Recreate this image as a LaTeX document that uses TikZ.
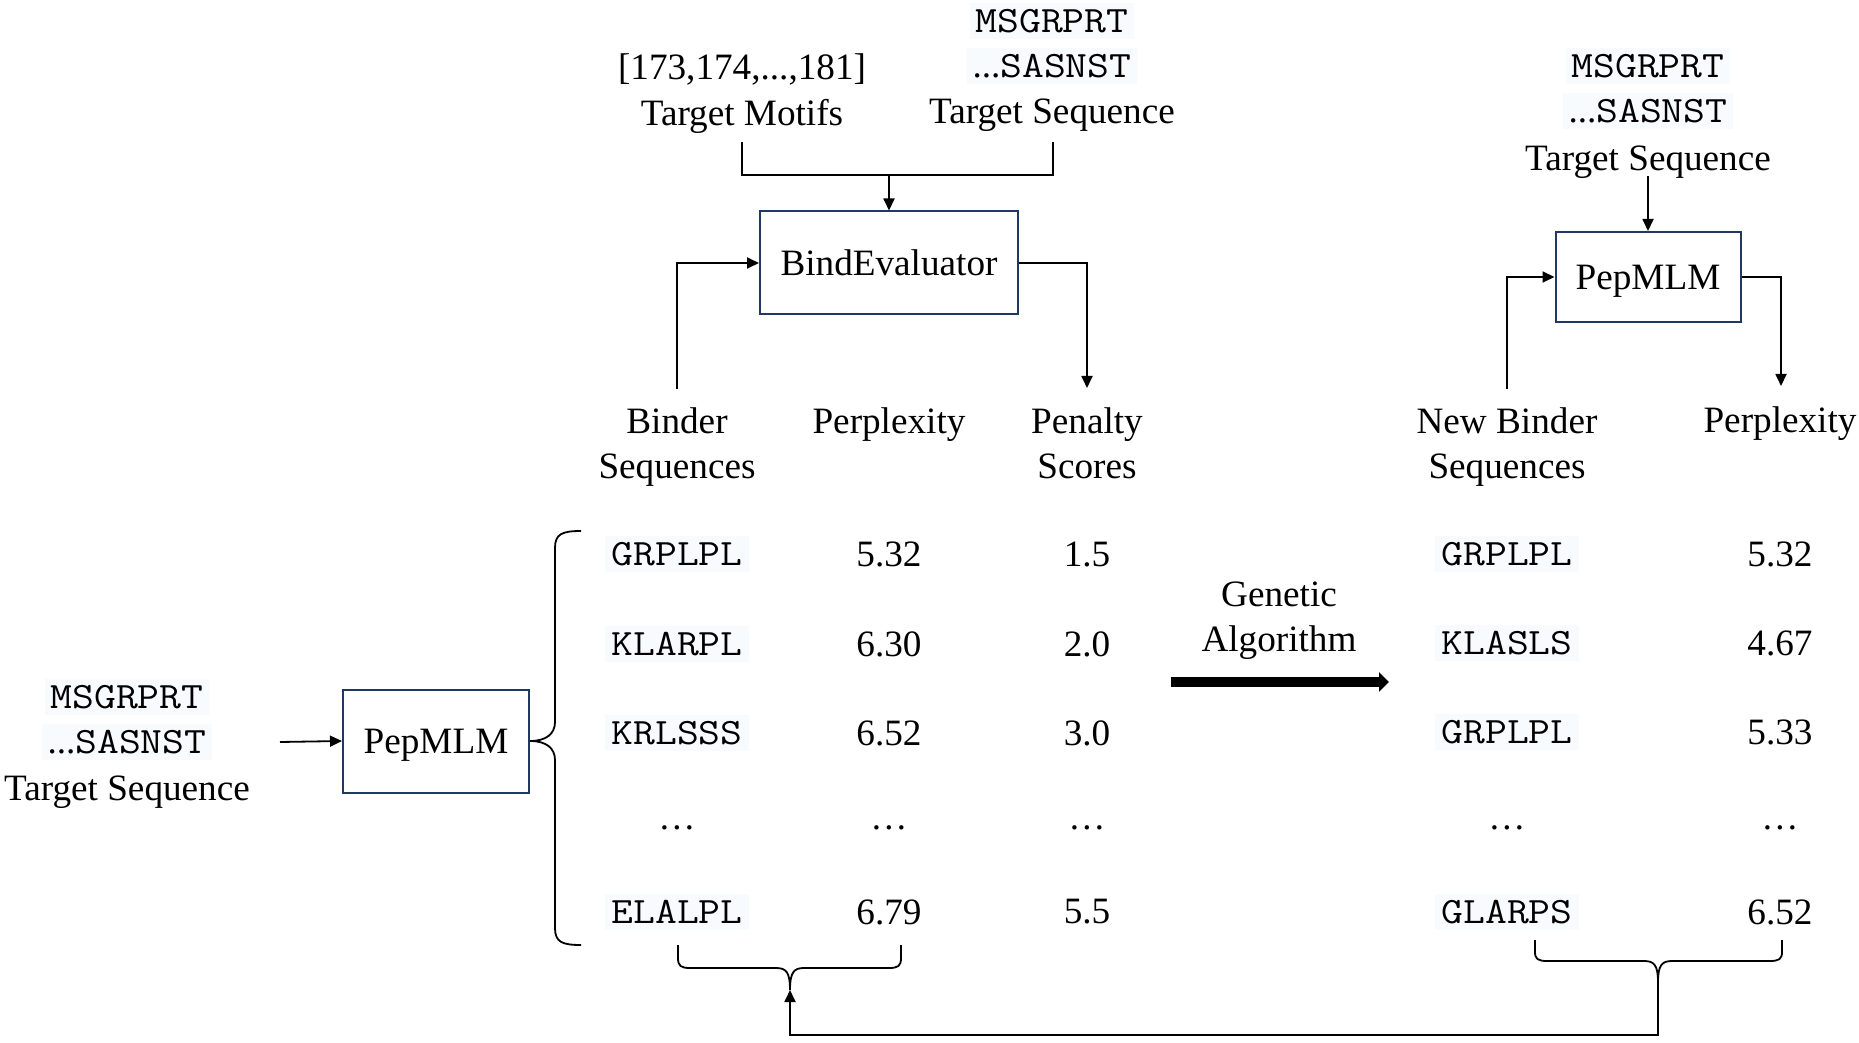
\documentclass[tikz,border=0pt]{standalone}
\usepackage{fontspec}
\setmainfont{Liberation Serif}
\newfontfamily\seqfont{Latin Modern Mono}[FakeStretch=1.14]
\usetikzlibrary{arrows.meta}
\definecolor{boxblue}{RGB}{31,56,100}
\definecolor{seqbg}{RGB}{248,251,253}
\begin{document}
\begin{tikzpicture}[x=0.5pt,y=-0.5pt,
  every node/.style={font=\fontsize{18.6}{22}\selectfont, inner sep=0pt},
  seq/.style={font=\fontsize{18.6}{22}\selectfont\seqfont, fill=seqbg, inner sep=3pt},
  model/.style={draw=boxblue, line width=1pt, text depth=0pt},
  conn/.style={line width=0.9pt},
  arr/.style={conn, -{Triangle[length=6pt,width=5.5pt]}},
  brace/.style={line width=0.9pt},
  bigarr/.style={line width=5pt, -{Triangle[length=5pt,width=9.5pt]}}
]
\useasboundingbox (0,0) rectangle (1859,1043);

% model boxes
\node[model, minimum width=129pt, minimum height=51.5pt] (be) at (889,263) {BindEvaluator};
\node[model, minimum width=93pt, minimum height=51.5pt] (pl) at (436,741) {PepMLM};
\node[model, minimum width=92.5pt, minimum height=45pt] (pr) at (1648,277) {PepMLM};

% top inputs of BindEvaluator
\node (mo1) at (742,69) {[173,174,...,181]};
\node (mo2) at (742,116) {Target Motifs};
\node[seq] (t1a) at (1052,21) {MSGRPRT};
\node[seq] (t1b) at (1052,66) {{\rmfamily ...}SASNST};
\node (t1c) at (1052,115) {Target Sequence};
\coordinate (mo2b) at (742,142);
\coordinate (t1cb) at (1053,142);
\coordinate (j1) at (889,175);
\draw[conn] (mo2b) |- (j1) -| (t1cb);
\draw[arr] (j1) -- (be.north);

% left input
\node[seq] (ls1) at (127,697) {MSGRPRT};
\node[seq] (ls2) at (127,742) {{\rmfamily ...}SASNST};
\node (ls3) at (127,792) {Target Sequence};
\coordinate (in) at (280,742);
\draw[arr] (in) -- (pl.west);

% headers left
\node (h1a) at (677,421) {Binder};
\node (h1b) at (677,470) {Sequences};
\node (h2) at (889,425) {Perplexity};
\node (h3a) at (1087,425) {Penalty};
\node (h3b) at (1087,466) {Scores};
\coordinate (b1) at (677,389);
\coordinate (p1) at (1087,388);
\draw[arr] (b1) |- (be.west);
\draw[arr] (be.east) -| (p1);

% left table
\node[seq] (s1) at (677,554) {GRPLPL};
\node[seq] (s2) at (677,644) {KLARPL};
\node[seq] (s3) at (677,733) {KRLSSS};
\node (s4) at (677,828) {…};
\node[seq] (s5) at (677,912) {ELALPL};
\node (q1) at (889,554) {5.32};
\node (q2) at (889,644) {6.30};
\node (q3) at (889,733) {6.52};
\node (q4) at (889,828) {…};
\node (q5) at (889,912) {6.79};
\node (y1) at (1087,554) {1.5};
\node (y2) at (1087,644) {2.0};
\node (y3) at (1087,733) {3.0};
\node (y4) at (1087,828) {…};
\node (y5) at (1087,912) {5.5};

% big brace from left PepMLM
\draw[brace] (581,531) .. controls (562,531) and (555,534) .. (555,548)
  -- (555,722) .. controls (555,734) and (546,741) .. (pl.east)
  .. controls (546,741) and (555,748) .. (555,760)
  -- (555,928) .. controls (555,942) and (562,945) .. (581,945);

% genetic algorithm
\node (ga1) at (1279,594) {Genetic};
\node (ga2) at (1279,643) {Algorithm};
\coordinate (gas) at (1171,682);
\coordinate (gae) at (1389,682);
\draw[bigarr] (gas) -- (gae);

% right side
\node[seq] (t2a) at (1648,66) {MSGRPRT};
\node[seq] (t2b) at (1648,111) {{\rmfamily ...}SASNST};
\node (t2c) at (1648,162) {Target Sequence};
\coordinate (t2cb) at (1648,176);
\draw[arr] (t2cb) -- (pr.north);

\node (n1a) at (1507,421) {New Binder};
\node (n1b) at (1507,470) {Sequences};
\node (n2) at (1780,424) {Perplexity};
\coordinate (nb) at (1507,389);
\coordinate (pp) at (1781,386);
\draw[arr] (nb) |- (pr.west);
\draw[arr] (pr.east) -| (pp);

\node[seq] (ns1) at (1507,554) {GRPLPL};
\node[seq] (ns2) at (1507,643) {KLASLS};
\node[seq] (ns3) at (1507,732) {GRPLPL};
\node (ns4) at (1507,828) {…};
\node[seq] (ns5) at (1507,912) {GLARPS};
\node (nq1) at (1780,554) {5.32};
\node (nq2) at (1780,643) {4.67};
\node (nq3) at (1780,732) {5.33};
\node (nq4) at (1780,828) {…};
\node (nq5) at (1780,912) {6.52};

% bottom braces
\coordinate (lbt) at (790,990);
\coordinate (rbt) at (1658,982);
\draw[brace] (678,945) -- (678,958) .. controls (678,966) and (681,968) .. (690,968)
  -- (776,968) .. controls (786,968) and (790,972) .. (lbt)
  .. controls (790,972) and (794,968) .. (804,968)
  -- (889,968) .. controls (898,968) and (901,966) .. (901,958) -- (901,945);
\draw[brace] (1535,940) -- (1535,952) .. controls (1535,959) and (1538,961) .. (1547,961)
  -- (1644,961) .. controls (1654,961) and (1658,965) .. (rbt)
  .. controls (1658,965) and (1662,961) .. (1672,961)
  -- (1770,961) .. controls (1779,961) and (1782,959) .. (1782,952) -- (1782,940);
\coordinate (cb) at (1658,1035);
\draw[arr] (rbt) -- (cb) -| (lbt);
\end{tikzpicture}
\end{document}
